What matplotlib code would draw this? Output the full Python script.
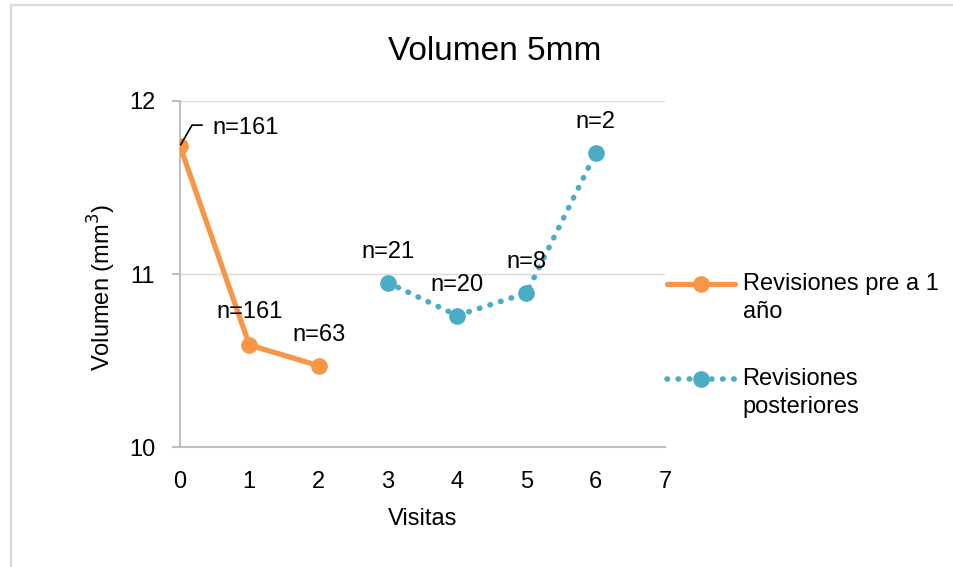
import matplotlib
matplotlib.use("Agg")
import numpy as np
import matplotlib.pyplot as plt
from matplotlib.lines import Line2D
from matplotlib.legend_handler import HandlerLine2D

plt.rcParams['font.family'] = ['Liberation Sans', 'DejaVu Sans']

# Data
visits_pre = [0, 1, 2]
volume_pre = [11.74, 10.59, 10.47]
n_pre = ["n=161", "n=161", "n=63"]

visits_post = [3, 4, 5, 6]
volume_post = [10.95, 10.76, 10.89, 11.70]
n_post = ["n=21", "n=20", "n=8", "n=2"]

xticks = [0, 1, 2, 3, 4, 5, 6, 7]
yticks = [10, 11, 12]

orange = "#F79646"
blue = "#4BACC6"
grid_c = "#D9D9D9"
axis_c = "#BFBFBF"
FS = 17


class FirstLineHandler(HandlerLine2D):
    """Line handle aligned with the first line of a two-line label."""
    def __init__(self, shift, **kw):
        super().__init__(**kw)
        self.shift = shift

    def create_artists(self, legend, orig_handle, xdescent, ydescent,
                       width, height, fontsize, trans):
        arts = super().create_artists(legend, orig_handle, xdescent, ydescent,
                                      width, height, fontsize, trans)
        for a in arts:
            a.set_ydata(np.asarray(a.get_ydata(), dtype=float) + self.shift)
        return arts


fig = plt.figure(figsize=(9.54, 5.67), dpi=100)
ax = fig.add_axes([0.1887, 0.2116, 0.5084, 0.6103])

l1, = ax.plot(visits_pre, volume_pre, color=orange, lw=3.8, marker='o', ms=11,
              solid_capstyle='round', label="Revisiones pre a 1\naño", zorder=3)
l2, = ax.plot(visits_post, volume_post, color=blue, lw=4.0, ls=(0, (0.1, 1.9)),
              dash_capstyle='round', marker='o', ms=11,
              label="Revisiones\nposteriores", zorder=3)

ax.set_xlim(0, 7)
ax.set_ylim(10, 12)
ax.set_xticks(xticks)
ax.set_yticks(yticks)
ax.tick_params(axis='x', length=0, pad=17, labelsize=FS)
ax.tick_params(axis='y', length=6, width=1.5, color=axis_c, pad=12, labelsize=FS)
ax.grid(axis='y', color=grid_c, lw=1)
ax.set_axisbelow(True)
for s in ['top', 'right']:
    ax.spines[s].set_visible(False)
for s in ['left', 'bottom']:
    ax.spines[s].set_color(axis_c)
    ax.spines[s].set_linewidth(1.5)

fig.text(495 / 954, 1 - 51 / 567, "Volumen 5mm", fontsize=24,
         ha='center', va='center')
ax.set_xlabel("Visitas", fontsize=FS)
ax.xaxis.set_label_coords(0.5, -0.177)
ax.set_ylabel("Volumen (mm$^3$)", fontsize=FS)
ax.yaxis.set_label_coords(-0.128, 0.462)

# Sample-size labels
pre_offsets = [(47, 13), (0, 24), (0, 22)]
for x, y, t, (dx, dy) in zip(visits_pre, volume_pre, n_pre, pre_offsets):
    ax.annotate(t, (x, y), xytext=(dx, dy), textcoords='offset points',
                ha='center', va='center', fontsize=FS)
# leader line for the first label
ax.annotate("", (visits_pre[0], volume_pre[0]), xytext=(16, 15),
            textcoords='offset points',
            arrowprops=dict(arrowstyle='-', color='black', lw=1.2,
                            connectionstyle='angle,angleA=0,angleB=60,rad=0',
                            shrinkA=0, shrinkB=1))
post_offsets = [(0, 22), (0, 22), (0, 22), (0, 22)]
for x, y, t, (dx, dy) in zip(visits_post, volume_post, n_post, post_offsets):
    ax.annotate(t, (x, y), xytext=(dx, dy), textcoords='offset points',
                ha='center', va='center', fontsize=FS)

leg = fig.legend(handles=[l1, l2], loc='upper left',
                 bbox_to_anchor=(667 / 954, 1 - 273 / 567),
                 frameon=False, fontsize=FS, labelspacing=1.9,
                 handlelength=2.9, handletextpad=0.3, borderpad=0,
                 borderaxespad=0,
                 handler_map={l1: FirstLineHandler(10), l2: FirstLineHandler(10)})
for t in leg.get_texts():
    t.set_linespacing(1.35)

# Chart frame (top and left edges)
fig.add_artist(Line2D([11.5 / 954, 11.5 / 954], [0, 1 - 4.5 / 567],
                      transform=fig.transFigure, color=grid_c, lw=1.5))
fig.add_artist(Line2D([11.5 / 954, 1], [1 - 4.5 / 567, 1 - 4.5 / 567],
                      transform=fig.transFigure, color=grid_c, lw=1.5))

fig.savefig("out.png", dpi=100)
